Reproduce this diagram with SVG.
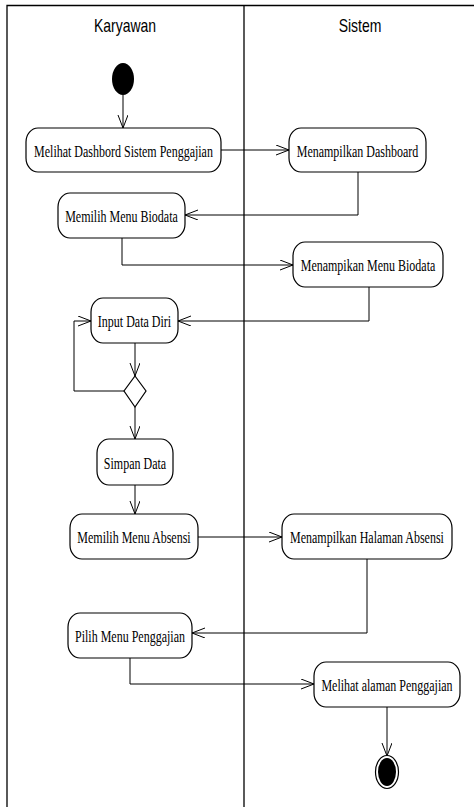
<svg xmlns="http://www.w3.org/2000/svg" width="474" height="807" viewBox="0 0 474 807">
<style>
.frame{stroke:#000;stroke-width:1.3;fill:none}
.node rect{fill:#fff;stroke:#000;stroke-width:1.2}
.lbl{font-family:"Liberation Serif","Times New Roman",serif;font-size:12px;text-anchor:middle;fill:#000}
.hdr{font-family:"Liberation Sans",Arial,sans-serif;font-size:14px;text-anchor:middle;fill:#000}
.conn path{fill:none;stroke:#000;stroke-width:1;marker-end:url(#arr)}
</style>
<defs>
<marker id="arr" markerUnits="userSpaceOnUse" markerWidth="15" markerHeight="12" refX="13" refY="5" orient="auto">
<path d="M0,0 L13,5 L0,10" fill="none" stroke="#000" stroke-width="1"/>
</marker>
</defs>
<rect width="474" height="807" fill="#fff"/>
<g id="swimlanes">
<path class="frame" d="M7,807 V5.5 H474"/>
<path class="frame" d="M244,5.5 V807"/>
<text class="hdr" transform="translate(125,32) scale(1,1.3)">Karyawan</text>
<text class="hdr" transform="translate(360,32) scale(1,1.3)">Sistem</text>
</g>
<g id="connectors" class="conn">
<path d="M123,95 V128"/>
<path d="M221,150 H289"/>
<path d="M358,172 V215 H185"/>
<path d="M122,238 V265 H293"/>
<path d="M369,287 V321 H178"/>
<path d="M135,343 V376"/>
<path d="M124,391 H74 V321 H91"/>
<path d="M135,407 V439"/>
<path d="M135,485 V514"/>
<path d="M198,537 H282"/>
<path d="M367,559 V633 H192"/>
<path d="M130,658 V684 H314"/>
<path d="M387,707 V756"/>
</g>
<g id="start"><ellipse cx="123" cy="79" rx="11" ry="16" fill="#000"/></g>
<g id="n1" class="node"><rect x="26" y="128" width="195" height="44" rx="12" ry="14"/><text class="lbl" transform="translate(123.5,157) scale(1,1.45)">Melihat Dashbord Sistem Penggajian</text></g>
<g id="n2" class="node"><rect x="289" y="128" width="137" height="44" rx="12" ry="14"/><text class="lbl" transform="translate(357.5,157) scale(1,1.45)">Menampilkan Dashboard</text></g>
<g id="n3" class="node"><rect x="58" y="193" width="127" height="45" rx="12" ry="14"/><text class="lbl" transform="translate(121.5,222) scale(1,1.45)">Memilih Menu Biodata</text></g>
<g id="n4" class="node"><rect x="293" y="242" width="150" height="45" rx="12" ry="14"/><text class="lbl" transform="translate(368,271) scale(1,1.45)">Menampikan Menu Biodata</text></g>
<g id="n5" class="node"><rect x="91" y="298" width="87" height="45" rx="12" ry="14"/><text class="lbl" transform="translate(134.5,327) scale(1,1.45)">Input Data Diri</text></g>
<g id="decision"><polygon points="135,376 146,391 135,407 124,391" fill="#fff" stroke="#000" stroke-width="1.2"/></g>
<g id="n6" class="node"><rect x="97" y="439" width="76" height="46" rx="12" ry="14"/><text class="lbl" transform="translate(135,469) scale(1,1.45)">Simpan Data</text></g>
<g id="n7" class="node"><rect x="70" y="514" width="128" height="45" rx="12" ry="14"/><text class="lbl" transform="translate(134,543) scale(1,1.45)">Memilih Menu Absensi</text></g>
<g id="n8" class="node"><rect x="282" y="514" width="170" height="45" rx="12" ry="14"/><text class="lbl" transform="translate(367,543) scale(1,1.45)">Menampilkan Halaman Absensi</text></g>
<g id="n9" class="node"><rect x="68" y="613" width="124" height="45" rx="12" ry="14"/><text class="lbl" transform="translate(130,642) scale(1,1.45)">Pilih Menu Penggajian</text></g>
<g id="n10" class="node"><rect x="314" y="662" width="146" height="45" rx="12" ry="14"/><text class="lbl" transform="translate(387,691) scale(1,1.45)">Melihat alaman Penggajian</text></g>
<g id="end"><ellipse cx="387" cy="772" rx="11.5" ry="16.5" fill="#fff" stroke="#000" stroke-width="1.2"/><ellipse cx="387" cy="772" rx="9" ry="14" fill="#000"/></g>
</svg>
